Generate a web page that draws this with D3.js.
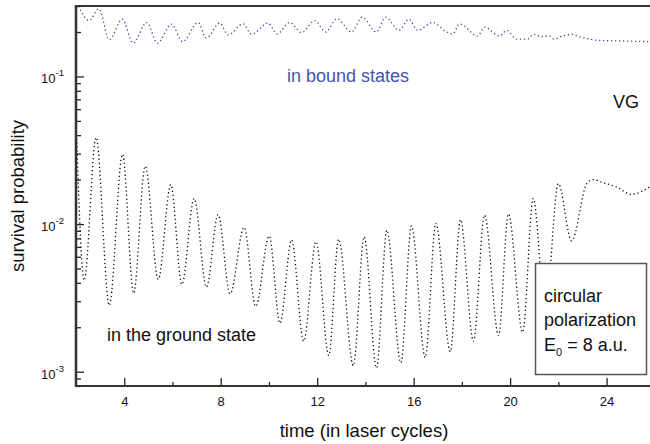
<!DOCTYPE html>
<html>
<head>
<meta charset="utf-8">
<script src="https://cdn.jsdelivr.net/npm/d3@7"></script>
<style>
body { margin: 0; background: #fff; }
svg { font-family: "Liberation Sans", Arial, sans-serif; display: block; }
</style>
</head>
<body>
<div id="chart"></div>
<script>
// survival probability vs time, two dotted curves on a log axis

const w = 650, h = 444
const margin = { left: 76, right: 0, top: 6, bottom: 58 }

// ground state (black dotted)
const groundT = [2.0, 2.34, 2.83, 3.38, 3.93, 4.39, 4.87, 5.41, 5.93, 6.39, 6.90, 7.41, 7.89, 8.39, 8.97, 9.45,
    10.01, 10.46, 10.94, 11.44, 11.95, 12.48, 12.89, 13.50, 13.95, 14.46, 14.89, 15.47, 15.91, 16.48, 16.92,
    17.52, 17.94, 18.48, 18.94, 19.52, 19.93, 20.52, 20.96, 21.46, 22.0, 22.55, 23.18, 23.45, 23.83, 24.39, 25.03, 25.8]
const groundP = [0.052, 0.00415, 0.0386, 0.00281, 0.0297, 0.0034, 0.0247, 0.00422, 0.0185, 0.0039, 0.0149, 0.00374,
    0.0116, 0.00337, 0.0095, 0.00277, 0.0083, 0.00213, 0.0078, 0.00161, 0.0076, 0.00129, 0.0079, 0.0011, 0.0082,
    0.00106, 0.0091, 0.00115, 0.0097, 0.00125, 0.0101, 0.00137, 0.0107, 0.00161, 0.0115, 0.00176, 0.0117, 0.00185,
    0.0149, 0.0026, 0.0188, 0.0077, 0.0188, 0.0200, 0.0191, 0.0179, 0.0159, 0.0179]

// bound states (blue dotted)
const boundT = [2.1, 2.55, 2.95, 3.38, 3.92, 4.37, 4.93, 5.38, 5.96, 6.42, 7.06, 7.40, 7.96, 8.31, 8.93, 9.28, 9.96,
    10.34, 10.86, 11.35, 11.90, 12.35, 12.82, 13.42, 13.87, 14.45, 14.84, 15.39, 15.80, 16.17, 16.80, 17.35, 17.62,
    17.90, 18.66, 18.94, 19.56, 19.86, 20.27, 20.73, 20.97, 21.28, 21.63, 21.83, 22.18, 22.59, 22.87, 23.28, 23.77, 24.53, 25.8]
const boundP = [0.30, 0.239, 0.287, 0.177, 0.244, 0.168, 0.232, 0.168, 0.226, 0.172, 0.232, 0.182, 0.230, 0.191, 0.227,
    0.193, 0.230, 0.194, 0.232, 0.198, 0.239, 0.200, 0.246, 0.200, 0.252, 0.200, 0.252, 0.205, 0.244, 0.205, 0.232,
    0.201, 0.194, 0.227, 0.188, 0.216, 0.188, 0.205, 0.179, 0.179, 0.193, 0.186, 0.188, 0.179, 0.188, 0.193, 0.186,
    0.179, 0.175, 0.174, 0.172]

const xMajor = [4, 8, 12, 16, 20, 24]
const xMinor = [6, 10, 14, 18, 22]
const yMajor = [1e-3, 1e-2, 1e-1]
const yExp = ["-3", "-2", "-1"]
const legendLines = ["circular", "polarization"]

const svg = d3.select("#chart").append("svg").attr("width", w).attr("height", h)

const x = d3.scaleLinear().domain([2, 25.8]).range([margin.left, w - margin.right])
const y = d3.scaleLog().domain([8e-4, 0.3]).range([h - margin.bottom, margin.top])

svg.append("clipPath").attr("id", "plot").append("rect")
    .attr("x", margin.left).attr("y", margin.top)
    .attr("width", w - margin.left - margin.right).attr("height", h - margin.top - margin.bottom)

const line = d3.line().x(d => x(d[0])).y(d => y(d[1])).curve(d3.curveMonotoneX)

svg.append("path")
    .attr("d", line(boundT.map((t, i) => [t, boundP[i]])))
    .attr("clip-path", "url(#plot)")
    .attr("fill", "none").attr("stroke", "#3b4ea2").attr("stroke-width", 1.3)
    .attr("stroke-dasharray", "1.3,2.7")

svg.append("path")
    .attr("d", line(groundT.map((t, i) => [t, groundP[i]])))
    .attr("clip-path", "url(#plot)")
    .attr("fill", "none").attr("stroke", "#111").attr("stroke-width", 1.3)
    .attr("stroke-dasharray", "1.3,2.7")

// axes
const bottom = h - margin.bottom
const gx = svg.append("g").attr("transform", `translate(0,${bottom})`)
    .call(d3.axisBottom(x).tickValues(xMajor).tickSize(-8).tickPadding(11).tickFormat(d3.format("d")))
svg.append("g").attr("transform", `translate(0,${bottom})`)
    .call(d3.axisBottom(x).tickValues(xMinor).tickSize(-4).tickFormat(""))

const yMinor = y.ticks().filter(v => !yMajor.some(m => Math.abs(m - v) < 1e-12))
const gy = svg.append("g").attr("transform", `translate(${margin.left},0)`)
    .call(d3.axisLeft(y).tickValues(yMajor).tickSize(-8).tickPadding(12))
svg.append("g").attr("transform", `translate(${margin.left},0)`)
    .call(d3.axisLeft(y).tickValues(yMinor).tickSize(-5).tickFormat(""))

gy.selectAll(".tick text").each(function (d, i) {
    const t = d3.select(this).text("").attr("dy", "0.5em")
    t.append("tspan").text("10")
    t.append("tspan").text(yExp[i]).attr("font-size", 9.5).attr("dy", "-0.75em")
})

svg.selectAll(".domain").remove()
svg.selectAll(".tick line").attr("stroke", "#222").attr("stroke-width", 1.3)
svg.selectAll(".tick text").attr("font-size", 13).attr("fill", "#111").attr("font-family", "Liberation Sans, Arial, sans-serif")

// frame lines
svg.append("line").attr("x1", margin.left).attr("x2", w).attr("y1", margin.top).attr("y2", margin.top)
    .attr("stroke", "#333").attr("stroke-width", 2.2)
svg.append("line").attr("x1", margin.left).attr("x2", w).attr("y1", bottom).attr("y2", bottom)
    .attr("stroke", "#333").attr("stroke-width", 2)
svg.append("line").attr("x1", margin.left).attr("x2", margin.left).attr("y1", margin.top - 1).attr("y2", bottom + 1)
    .attr("stroke", "#333").attr("stroke-width", 2.5)

// axis titles
svg.append("text").attr("x", 364).attr("y", 437).attr("text-anchor", "middle")
    .attr("font-size", 18.5).attr("fill", "#111").text("time (in laser cycles)")
svg.append("text").attr("transform", "translate(24,196) rotate(-90)").attr("text-anchor", "middle")
    .attr("font-size", 18.5).attr("fill", "#111").text("survival probability")

// annotations
svg.append("text").attr("x", 287).attr("y", 82).attr("font-size", 18).attr("fill", "#4455a8").text("in bound states")
svg.append("text").attr("x", 613).attr("y", 108).attr("font-size", 18).attr("fill", "#111").text("VG")
svg.append("text").attr("x", 107).attr("y", 341).attr("font-size", 18).attr("fill", "#111").text("in the ground state")

// legend box
svg.append("rect").attr("x", 535.5).attr("y", 263.5).attr("width", 111).attr("height", 111)
    .attr("fill", "#fff").attr("stroke", "#555").attr("stroke-width", 1.5)
legendLines.forEach((s, i) => {
    svg.append("text").attr("x", 544).attr("y", 301.5 + i * 24.5).attr("font-size", 18).attr("fill", "#111").text(s)
})
const eq = svg.append("text").attr("x", 544).attr("y", 351).attr("font-size", 18).attr("fill", "#111")
eq.append("tspan").text("E")
eq.append("tspan").text("0").attr("font-size", 11).attr("dy", 5)
eq.append("tspan").text(" = 8 a.u.").attr("dy", -5)
</script>
</body>
</html>
